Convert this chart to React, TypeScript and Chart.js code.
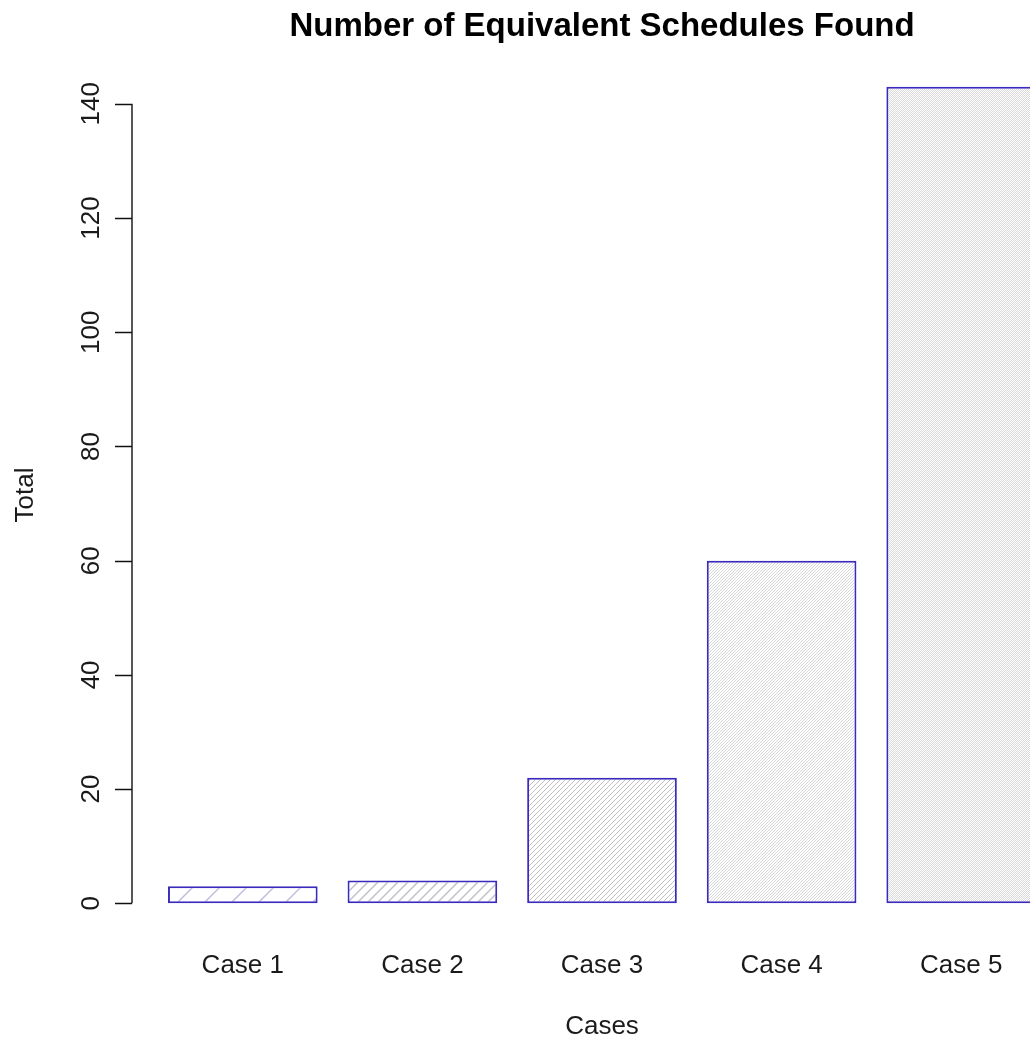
import React, { useEffect, useRef } from 'react';
import { Chart, registerables } from 'chart.js';

Chart.register(...registerables);

const categories = ['Case 1', 'Case 2', 'Case 3', 'Case 4', 'Case 5'];
const totals = [3, 4, 22, 60, 143];
const yTickValues = [0, 20, 40, 60, 80, 100, 120, 140];
const chartTitle = 'Number of Equivalent Schedules Found';
const xTitle = 'Cases';
const yTitle = 'Total';

// hatch styles (spacing px, line colour) per bar
const hatchSpacing = [27, 10, 5, 3, 2];
const hatchColor = ['#bfbfdc', '#c2c2c8', '#c0c0c0', '#d6d6d6', '#d9d9d9'];

const FONT = '"Liberation Sans", Arial, Helvetica, sans-serif';

function makeHatch(s: number, color: string): CanvasPattern | string {
  const c = document.createElement('canvas');
  c.width = s;
  c.height = s;
  const g = c.getContext('2d');
  if (!g) return color;
  g.fillStyle = '#ffffff';
  g.fillRect(0, 0, s, s);
  g.strokeStyle = color;
  g.lineWidth = s > 8 ? 1.5 : 1;
  g.beginPath();
  g.moveTo(0, s);
  g.lineTo(s, 0);
  g.moveTo(-1, 1);
  g.lineTo(1, -1);
  g.moveTo(s - 1, s + 1);
  g.lineTo(s + 1, s - 1);
  g.stroke();
  const p = g.createPattern(c, 'repeat');
  return p || color;
}

const decorPlugin = {
  id: 'rDecor',
  afterDraw(chart: any) {
    const ctx = chart.ctx as CanvasRenderingContext2D;
    const y = chart.scales.y;
    const x = chart.scales.x;
    const axisX = 132;
    ctx.save();
    ctx.strokeStyle = '#111';
    ctx.lineWidth = 1.4;
    ctx.beginPath();
    const y0 = y.getPixelForValue(yTickValues[0]);
    const y1 = y.getPixelForValue(yTickValues[yTickValues.length - 1]);
    ctx.moveTo(axisX, y0);
    ctx.lineTo(axisX, y1);
    yTickValues.forEach((v) => {
      const py = Math.round(y.getPixelForValue(v)) + 0.5;
      ctx.moveTo(axisX, py);
      ctx.lineTo(axisX - 17, py);
    });
    ctx.stroke();

    ctx.fillStyle = '#1a1a1a';
    ctx.font = `26px ${FONT}`;
    yTickValues.forEach((v) => {
      const py = y.getPixelForValue(v);
      ctx.save();
      ctx.translate(99, py);
      ctx.rotate(-Math.PI / 2);
      ctx.textAlign = 'center';
      ctx.textBaseline = 'alphabetic';
      ctx.fillText(String(v), 0, 0);
      ctx.restore();
    });

    // category labels
    ctx.textAlign = 'center';
    ctx.textBaseline = 'alphabetic';
    categories.forEach((c, i) => {
      ctx.fillText(c, x.getPixelForValue(i), 973);
    });

    const midX = (chart.chartArea.left + chart.chartArea.right) / 2;
    ctx.fillText(xTitle, midX, 1034);

    ctx.save();
    ctx.translate(33, (chart.chartArea.top + chart.chartArea.bottom) / 2);
    ctx.rotate(-Math.PI / 2);
    ctx.textAlign = 'center';
    ctx.fillText(yTitle, 0, 0);
    ctx.restore();

    ctx.font = `bold 33px ${FONT}`;
    ctx.fillStyle = '#000';
    ctx.fillText(chartTitle, midX, 36);
    ctx.restore();
  },
};

export default function App() {
  const ref = useRef<HTMLCanvasElement | null>(null);

  useEffect(() => {
    if (!ref.current) return;
    const patterns = totals.map((_, i) => makeHatch(hatchSpacing[i], hatchColor[i]));
    const chart = new Chart(ref.current, {
      type: 'bar',
      data: {
        labels: categories,
        datasets: [
          {
            data: totals,
            backgroundColor: patterns as any,
            borderColor: '#3a2bbd',
            borderWidth: 2,
            borderSkipped: false,
            barPercentage: 150 / 180,
            categoryPercentage: 1,
          },
        ],
      },
      options: {
        responsive: false,
        animation: false,
        devicePixelRatio: 1,
        layout: { padding: { left: 153, right: 9, top: 54, bottom: 104 } },
        plugins: {
          legend: { display: false },
          title: { display: false },
          tooltip: { enabled: false },
        },
        scales: {
          x: { type: 'category', display: false, offset: true },
          y: { type: 'linear', display: false, min: -5.72, max: 148.72 },
        },
      },
      plugins: [decorPlugin],
    });
    return () => chart.destroy();
  }, []);

  return (
    <div
      style={{
        position: 'fixed',
        left: 0,
        top: 0,
        width: 1030,
        height: 1040,
        overflow: 'hidden',
        background: '#fff',
      }}
    >
      <canvas ref={ref} width={1060} height={1040} style={{ display: 'block' }} />
    </div>
  );
}
